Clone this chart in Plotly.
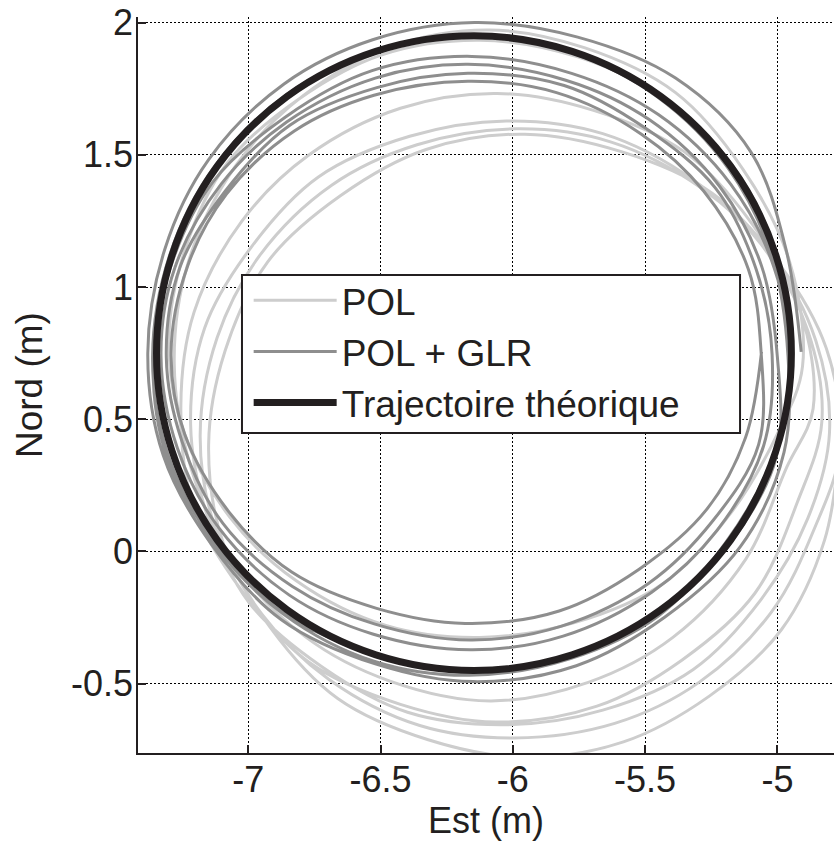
import plotly.graph_objects as go

# ---------------- data ----------------
# POL trajectory (light grey), successive laps
pol_x = [
    -4.950, -5.012, -5.170, -5.440, -5.755, -6.125, -6.495, -6.810, -7.080, -7.238,
    -7.300, -7.245, -7.070, -6.820, -6.480, -6.125, -5.770, -5.430, -5.180, -5.000,
    -4.905, -4.955, -5.130, -5.385, -5.730, -6.090, -6.450, -6.795, -7.050, -7.228,
    -7.280, -7.215, -7.060, -6.785, -6.465, -6.085, -5.715, -5.395, -5.120, -4.965,
    -4.865, -4.915, -5.095, -5.350, -5.695, -6.060, -6.425, -6.770, -7.025, -7.205,
    -7.255, -7.208, -7.025, -6.772, -6.425, -6.065, -5.682, -5.360, -5.085, -4.925,
    -4.832, -4.885, -5.062, -5.318, -5.660, -6.025, -6.390, -6.735, -6.988, -7.165,
    -7.218, -7.155, -6.998, -6.722, -6.398, -6.020, -5.660, -5.318, -5.062, -4.885,
    -4.803, -4.855, -5.032, -5.285, -5.628, -5.985, -6.362, -6.685, -6.958, -7.118,
    -7.182, -7.126, -6.948, -6.695, -6.352, -5.995, -5.615, -5.295, -5.022, -4.862,
    -4.762, -4.815, -4.992, -5.248, -5.590, -5.955, -6.328, -6.652, -6.926, -7.088,
    -7.150, -7.095, -6.918, -6.662, -6.320, -5.958, -5.582, -5.256, -4.985, -4.822,
    -4.765,
]
pol_y = [
    0.800, 1.152, 1.460, 1.720, 1.870, 1.933, 1.878, 1.710, 1.468, 1.145,
    0.800, 0.455, 0.130, -0.110, -0.280, -0.325, -0.270, -0.120, 0.140, 0.445,
    0.700, 1.100, 1.445, 1.735, 1.905, 1.972, 1.912, 1.722, 1.455, 1.090,
    0.710, 0.310, -0.035, -0.322, -0.490, -0.565, -0.495, -0.325, -0.030, 0.318,
    0.540, 0.915, 1.238, 1.510, 1.668, 1.732, 1.676, 1.500, 1.248, 0.905,
    0.550, 0.175, -0.148, -0.418, -0.578, -0.645, -0.585, -0.410, -0.158, 0.185,
    0.490, 0.835, 1.162, 1.405, 1.580, 1.628, 1.570, 1.416, 1.152, 0.845,
    0.480, 0.135, -0.192, -0.436, -0.608, -0.655, -0.600, -0.446, -0.182, 0.125,
    0.450, 0.798, 1.130, 1.372, 1.548, 1.598, 1.538, 1.385, 1.118, 0.808,
    0.440, 0.092, -0.238, -0.484, -0.658, -0.705, -0.650, -0.494, -0.228, 0.082,
    0.395, 0.768, 1.086, 1.356, 1.512, 1.578, 1.520, 1.345, 1.096, 0.758,
    0.405, 0.032, -0.286, -0.556, -0.712, -0.778, -0.720, -0.546, -0.296, 0.042,
    0.400,
]

# POL + GLR trajectory (dark grey), successive laps
glr_x = [
    -4.910, -4.968, -5.100, -5.385, -5.755, -6.145, -6.530, -6.865, -7.150, -7.315,
    -7.380, -7.322, -7.140, -6.875, -6.520, -6.150, -5.760, -5.425, -5.140, -4.975,
    -4.960, -5.022, -5.185, -5.458, -5.785, -6.160, -6.535, -6.860, -7.135, -7.298,
    -7.362, -7.305, -7.125, -6.870, -6.525, -6.165, -5.785, -5.450, -5.195, -5.015,
    -4.950, -5.012, -5.176, -5.450, -5.778, -6.155, -6.532, -6.858, -7.135, -7.298,
    -7.360, -7.305, -7.125, -6.868, -6.522, -6.150, -5.790, -5.440, -5.186, -5.004,
    -5.000, -5.060, -5.218, -5.486, -5.800, -6.170, -6.520, -6.855, -7.102, -7.278,
    -7.330, -7.268, -7.112, -6.845, -6.530, -6.160, -5.810, -5.475, -5.228, -5.052,
    -5.020, -5.080, -5.234, -5.498, -5.806, -6.170, -6.514, -6.843, -7.086, -7.258,
    -7.310, -7.250, -7.096, -6.833, -6.524, -6.160, -5.816, -5.486, -5.244, -5.071,
    -5.062, -5.110, -5.278, -5.514, -5.835, -6.170, -6.525, -6.826, -7.082, -7.230,
    -7.292, -7.240, -7.072, -6.836, -6.515, -6.180, -5.825, -5.524, -5.268, -5.120,
    -5.060,
]
glr_y = [
    0.755, 1.145, 1.510, 1.790, 1.945, 2.000, 1.935, 1.768, 1.482, 1.145,
    0.750, 0.365, 0.028, -0.258, -0.425, -0.492, -0.432, -0.248, 0.018, 0.375,
    0.740, 1.118, 1.448, 1.722, 1.888, 1.952, 1.886, 1.724, 1.446, 1.118,
    0.735, 0.370, 0.025, -0.235, -0.415, -0.468, -0.406, -0.244, 0.034, 0.362,
    0.710, 1.072, 1.388, 1.652, 1.808, 1.872, 1.818, 1.644, 1.396, 1.064,
    0.715, 0.348, 0.032, -0.232, -0.388, -0.455, -0.398, -0.222, 0.022, 0.358,
    0.735, 1.080, 1.380, 1.634, 1.782, 1.842, 1.790, 1.624, 1.390, 1.072,
    0.740, 0.390, 0.090, -0.165, -0.312, -0.372, -0.320, -0.154, 0.080, 0.400,
    0.745, 1.066, 1.374, 1.600, 1.762, 1.808, 1.754, 1.612, 1.364, 1.076,
    0.735, 0.414, 0.106, -0.132, -0.274, -0.335, -0.282, -0.120, 0.116, 0.404,
    0.760, 1.068, 1.362, 1.578, 1.735, 1.778, 1.725, 1.590, 1.352, 1.078,
    0.750, 0.442, 0.148, -0.078, -0.215, -0.272, -0.225, -0.068, 0.158, 0.432,
    0.755,
]

# Theoretical trajectory (black)
theo_x = [-4.947, -5.006, -5.176, -5.441, -5.776, -6.147, -6.518, -6.853, -7.118, -7.288,
          -7.347, -7.288, -7.118, -6.853, -6.518, -6.147, -5.776, -5.441, -5.176, -5.006,
          -4.947]
theo_y = [0.750, 1.121, 1.456, 1.721, 1.891, 1.950, 1.891, 1.721, 1.456, 1.121,
          0.750, 0.379, 0.044, -0.221, -0.391, -0.450, -0.391, -0.221, 0.044, 0.379,
          0.750]

series_names = ["POL", "POL + GLR", "Trajectoire théorique"]
x_ticks = [-7, -6.5, -6, -5.5, -5]
x_tick_labels = ["-7", "-6.5", "-6", "-5.5", "-5"]
y_ticks = [-0.5, 0, 0.5, 1, 1.5, 2]
y_tick_labels = ["-0.5", "0", "0.5", "1", "1.5", "2"]

# ---------------- figure ----------------
FONT = "Liberation Sans, Arial, Helvetica, sans-serif"
INK = "#231f20"

fig = go.Figure()
fig.add_trace(go.Scatter(x=pol_x, y=pol_y, mode="lines", name=series_names[0],
                         line=dict(color="#cdcdcd", width=3, shape="spline")))
fig.add_trace(go.Scatter(x=glr_x, y=glr_y, mode="lines", name=series_names[1],
                         line=dict(color="#8e8e8e", width=3, shape="spline")))
fig.add_trace(go.Scatter(x=theo_x, y=theo_y, mode="lines", name=series_names[2],
                         line=dict(color=INK, width=7, shape="spline")))

axis_common = dict(
    showgrid=True, gridcolor="#000000", gridwidth=1, griddash="2px,2px",
    showline=True, linecolor=INK, linewidth=1.5, mirror=False,
    ticks="inside", ticklen=8, tickwidth=1.5, tickcolor=INK,
    zeroline=False, automargin=False,
    tickfont=dict(family=FONT, size=36, color=INK),
)

fig.update_layout(
    width=834, height=849,
    margin=dict(l=138, r=0, t=17, b=96, autoexpand=False),
    paper_bgcolor="white", plot_bgcolor="white",
    font=dict(family=FONT, color=INK),
    xaxis=dict(range=[-7.417, -4.786], tickvals=x_ticks, ticktext=x_tick_labels,
               ticklabelstandoff=-6, **axis_common),
    yaxis=dict(range=[-0.762, 2.021], tickvals=y_ticks, ticktext=y_tick_labels,
               ticklabelstandoff=-4, **axis_common),
    showlegend=True,
    legend=dict(x=0.159, y=0.6565, xanchor="left", yanchor="top",
                bgcolor="rgba(0,0,0,0)", borderwidth=0,
                itemwidth=83, font=dict(family=FONT, size=37, color=INK),
                traceorder="normal"),
    shapes=[dict(type="rect", xref="paper", yref="paper",
                 x0=0.1494, x1=0.865, y0=0.4348, y1=0.6495,
                 line=dict(color=INK, width=2), fillcolor="white", layer="above")],
    annotations=[
        dict(text="Est (m)", xref="paper", yref="paper", x=0.5, y=0,
             xanchor="center", yanchor="middle", yshift=-67, showarrow=False,
             font=dict(family=FONT, size=36, color=INK)),
        dict(text="Nord (m)", xref="paper", yref="paper", x=0, y=0.5,
             xanchor="center", yanchor="middle", xshift=-109, textangle=-90,
             showarrow=False, font=dict(family=FONT, size=37, color=INK)),
    ],
)

fig.write_html(
    "out.html",
    config={"displayModeBar": False},
    post_script="document.body.style.margin='0px';document.body.style.overflow='hidden';",
)
